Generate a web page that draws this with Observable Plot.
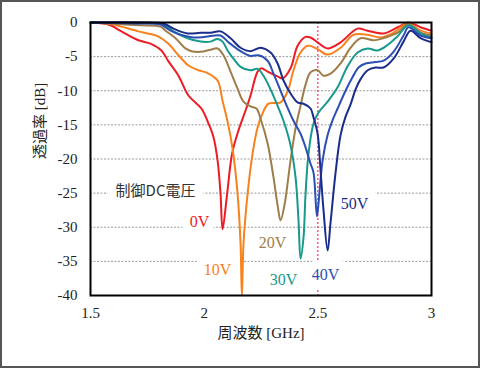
<!DOCTYPE html>
<html><head><meta charset="utf-8">
<script src="https://cdn.jsdelivr.net/npm/d3@7"></script>
<script src="https://cdn.jsdelivr.net/npm/@observablehq/plot@0.6"></script>
<style>
body{margin:0;background:#fff;}
#wrap{position:relative;width:480px;height:368px;}
#border{position:absolute;left:0;top:0;width:480px;height:368px;box-sizing:border-box;border:2px solid #555;pointer-events:none;}
</style></head><body><div id="wrap"><div id="border"></div></div>
<script>
const seriesNames = ["0V","10V","20V","30V","40V","50V"];
const seriesColors = ["#ec1c24","#f7821e","#9e7d4a","#17998b","#2b4fb2","#1b2d8a"];

const f0 = [1.50,1.544,1.588,1.636,1.711,1.764,1.812,1.843,1.887,1.931,1.988,2.019,2.041,2.059,2.072,2.081,2.101,2.123,2.151,2.182,2.204,2.235,2.252,2.279,2.323,2.345,2.380,2.411,2.446,2.468,2.499,2.543,2.600,2.675,2.719,2.789,2.851,2.899,2.952,3.0];
const v0 = [0,-0.1,-0.4,-1.3,-2.6,-3.1,-4.1,-5.7,-7.8,-10.7,-12.6,-14.8,-16.8,-20.2,-25.1,-30.3,-25.1,-19.2,-15.8,-12.9,-10.7,-7.2,-6.7,-7.2,-7.9,-8.2,-6.7,-3.4,-2.1,-2.2,-2.9,-3.8,-2.9,-0.9,-1.2,-1.6,-0.7,0,-0.7,-1.2];

const f10 = [1.50,1.588,1.636,1.711,1.751,1.795,1.843,1.887,1.931,1.975,2.015,2.059,2.081,2.103,2.125,2.147,2.160,2.166,2.173,2.191,2.213,2.235,2.257,2.283,2.336,2.367,2.393,2.424,2.455,2.499,2.543,2.600,2.657,2.719,2.776,2.833,2.895,2.952,3.0];
const v10 = [0,-0.2,-0.6,-1.3,-1.6,-2.0,-3.1,-4.8,-6.3,-7.0,-7.4,-8.5,-11.5,-14.5,-18.5,-25.1,-32.4,-40,-32.4,-25.1,-19.2,-15.4,-13.3,-11.9,-11.7,-10.1,-7.0,-4.4,-3.4,-3.9,-4.7,-3.7,-1.8,-1.8,-2.2,-1.5,-0.15,-1.2,-1.6];

const f20 = [1.5,1.579,1.720,1.808,1.830,1.874,1.918,1.944,1.984,2.028,2.059,2.085,2.116,2.147,2.173,2.204,2.230,2.248,2.279,2.305,2.323,2.336,2.353,2.380,2.402,2.424,2.446,2.468,2.499,2.525,2.556,2.600,2.644,2.688,2.745,2.798,2.851,2.899,2.952,3.0];
const v20 = [0,-0.15,-0.4,-0.6,-1.2,-2.3,-3.8,-4.2,-4.3,-4.0,-3.8,-4.8,-7.2,-9.7,-11.6,-12.3,-12.6,-14.1,-17.7,-22.7,-26.8,-29.0,-26.8,-20.2,-15.5,-12.2,-9.1,-7.3,-7.0,-7.8,-7.5,-6.0,-3.7,-2.3,-2.6,-2.2,-1.5,-0.2,-1.5,-1.9];

const f30 = [1.5,1.667,1.786,1.821,1.865,1.927,1.984,2.028,2.059,2.081,2.103,2.129,2.160,2.204,2.235,2.261,2.292,2.323,2.349,2.380,2.402,2.415,2.424,2.437,2.446,2.459,2.481,2.503,2.543,2.587,2.631,2.675,2.719,2.763,2.807,2.851,2.899,2.952,3.0];
const v30 = [0,0,-0.1,-0.3,-1.3,-2.3,-2.8,-2.8,-2.4,-2.8,-4.1,-5.3,-6.5,-7.0,-6.8,-7.8,-9.8,-12.2,-14.4,-18.0,-22.7,-29.0,-34.6,-31.5,-25.1,-19.2,-14.8,-13.2,-11.6,-9.5,-6.4,-4.4,-3.8,-4.1,-3.3,-2.0,-0.4,-1.6,-2.2];

const f40 = [1.5,1.689,1.808,1.852,1.896,1.953,2.006,2.072,2.107,2.160,2.204,2.239,2.279,2.305,2.336,2.367,2.393,2.424,2.446,2.468,2.481,2.496,2.503,2.521,2.543,2.565,2.587,2.622,2.653,2.679,2.710,2.754,2.789,2.833,2.877,2.899,2.952,3.0];
const v40 = [0,-0.15,-0.3,-1.2,-1.8,-2.2,-2.1,-1.9,-2.9,-4.2,-4.9,-4.8,-5.6,-7.5,-10.0,-12.5,-14.4,-16.3,-18.3,-20.7,-22.0,-28.4,-26.5,-20.2,-16.5,-14.3,-12.6,-10.0,-8.0,-6.6,-6.0,-5.8,-5.6,-4.3,-1.9,-0.7,-1.9,-2.3];

const f50 = [1.5,1.720,1.821,1.865,1.927,1.984,2.028,2.072,2.116,2.160,2.204,2.248,2.292,2.323,2.349,2.380,2.411,2.437,2.468,2.481,2.499,2.512,2.525,2.543,2.556,2.578,2.600,2.622,2.644,2.666,2.688,2.719,2.754,2.789,2.833,2.877,2.908,2.952,3.0];
const v50 = [0,0,-0.15,-0.9,-1.6,-1.5,-1.5,-1.3,-2.3,-3.7,-4.2,-3.7,-4.4,-6.0,-8.5,-10.4,-11.7,-11.9,-12.6,-13.9,-16.3,-21.7,-27.5,-33.4,-29.3,-22,-16.5,-13.8,-12.0,-9.8,-8.3,-7.0,-6.6,-6.6,-5.3,-2.8,-1.2,-2.3,-2.9];

const xTicks = [1.5,2,2.5,3];
const yTicks = [0,-5,-10,-15,-20,-25,-30,-35,-40];
const gridY = [-5,-10,-15,-20,-25,-30,-35];
const markerX = [2.5];
const xLabel = "周波数 [GHz]";
const yLabel = "透過率 [dB]";
const legendTitle = "制御DC電圧";
const legendTitlePos = {x:1.786, y:-24.76};
const labelX = [1.980,2.059,2.301,2.349,2.534,2.661];
const labelY = [-29.16,-36.19,-32.23,-37.66,-36.92,-26.52];

const allF = [f0,f10,f20,f30,f40,f50];
const allV = [v0,v10,v20,v30,v40,v50];
const table = [];
seriesNames.forEach((s,i)=>{ allF[i].forEach((f,j)=>table.push({s, f, db: allV[i][j]})); });
const labels = seriesNames.map((s,i)=>({s, text:s, x:labelX[i], y:labelY[i]}));
const titleRow = [{text:legendTitle, x:legendTitlePos.x, y:legendTitlePos.y}];

const chart = Plot.plot({
  width:480, height:368,
  marginLeft:90, marginRight:49, marginTop:22, marginBottom:73,
  style:{fontFamily:"'Liberation Serif','Times New Roman','Noto Sans CJK JP',serif", fontSize:"15px", color:"#222", background:"transparent"},
  x:{domain:[1.5,3], ticks:xTicks, tickFormat:d=>String(d), tickSize:0, tickPadding:12, label:null},
  y:{domain:[-40,0], ticks:yTicks, tickFormat:d=>String(d), tickSize:0, tickPadding:13, label:null},
  color:{domain:seriesNames, range:seriesColors},
  marks:[
    Plot.ruleY(gridY,{stroke:"#9a9a9a", strokeDasharray:"2,1.5", strokeWidth:1}),
    Plot.ruleX(markerX,{stroke:"#ff3d6e", strokeDasharray:"2,2", strokeWidth:1.3}),
    Plot.text(labels,{x:"x", y:"y", text:"text", fill:"white", stroke:"white", strokeWidth:18, strokeLinejoin:"round", fontSize:16}),
    Plot.text(titleRow,{x:"x", y:"y", text:"text", fill:"white", stroke:"white", strokeWidth:18, strokeLinejoin:"round", fontSize:15, fontFamily:"'Noto Sans CJK JP','Liberation Serif',sans-serif"}),
    Plot.line(table,{x:"f", y:"db", z:"s", stroke:"s", strokeWidth:2, curve:"catmull-rom"}),
    Plot.text(labels,{x:"x", y:"y", text:"text", fill:"s", fontSize:16}),
    Plot.text(titleRow,{x:"x", y:"y", text:"text", fill:"#333", fontSize:15, fontFamily:"'Noto Sans CJK JP','Liberation Serif',sans-serif"}),
    Plot.frame({stroke:"#000", strokeWidth:2}),
    Plot.text([xLabel],{frameAnchor:"bottom", dy:42, fontSize:15, fill:"#222"}),
    Plot.text([yLabel],{frameAnchor:"left", dx:-50, rotate:-90, fontSize:15, fill:"#222"})
  ]
});
document.getElementById("wrap").prepend(chart);
</script></body></html>
